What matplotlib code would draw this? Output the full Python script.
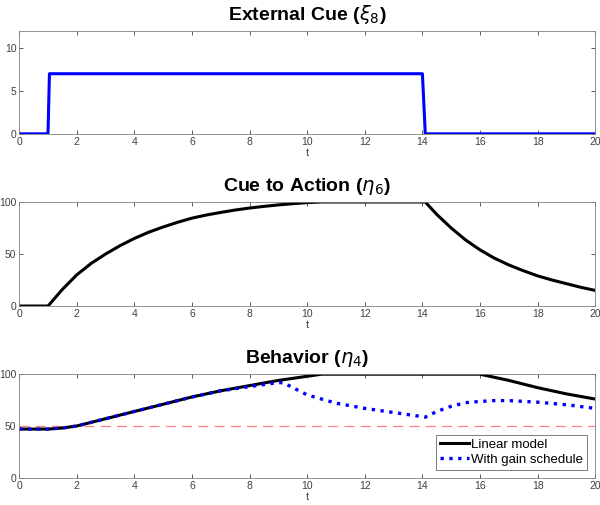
import matplotlib
matplotlib.use("Agg")
import matplotlib.pyplot as plt

plt.rcParams['font.family'] = ['Liberation Sans', 'DejaVu Sans']
plt.rcParams['mathtext.fontset'] = 'dejavusans'

# Panel 1: external cue
cue_t = [0, 1.0, 1.05, 14.0, 14.1, 20]
cue_y = [0, 0, 7, 7, 0, 0]

# Panel 2: cue to action
act_t = [0, 1, 1.5, 2, 2.5, 3, 3.5, 4, 4.5, 5, 5.5, 6, 6.5, 7, 7.5, 8, 8.5, 9, 9.5, 10, 10.5,
         14.1, 14.5, 15, 15.5, 16, 16.5, 17, 17.5, 18, 18.5, 19, 19.5, 20]
act_y = [0, 0, 16, 30, 41, 50, 58, 65, 71, 76, 80.5, 84.5, 87.5, 90, 92.3, 94.2, 95.8, 97.2,
         98.4, 99.4, 100,
         100, 88, 75, 63.5, 54, 46, 39.5, 34, 29, 25, 21.5, 18, 15]

# Panel 3: behavior
lin_t = [0, 1, 1.5, 2, 3, 4, 5, 6, 7, 8, 9, 10, 10.5, 16, 17, 18, 19, 20]
lin_y = [47, 47, 48, 50, 57, 64, 71, 78, 84, 89, 94, 98, 100, 100, 94, 87, 81, 76]

gain_t = [0, 1, 1.5, 2, 3, 4, 5, 6, 7, 8, 9, 9.2, 9.5, 10, 10.5, 11, 12, 13, 14, 14.1,
          14.5, 15, 15.5, 16, 16.5, 17, 18, 19, 20]
gain_y = [47, 47, 48, 50, 57, 64, 71, 78, 84, 88, 92, 91.5, 87, 80, 76, 72, 67, 63, 59, 58.5,
          64, 69, 72.5, 73.7, 74.5, 74.5, 73, 70.5, 67]

threshold = 50
xticks = [0, 2, 4, 6, 8, 10, 12, 14, 16, 18, 20]

fig = plt.figure(figsize=(6.0, 5.05), dpi=100)

def style(ax, ylim, yticks):
    ax.set_xlim(0, 20)
    ax.set_ylim(*ylim)
    ax.set_xticks(xticks)
    ax.set_yticks(yticks)
    ax.tick_params(direction='in', top=True, right=True, labelsize=7.5, colors='#404040',
                   length=3, width=0.6, pad=2)
    for s in ax.spines.values():
        s.set_color('#808080')
        s.set_linewidth(0.6)
    ax.set_xlabel('t', fontsize=8, color='#404040', labelpad=1)

ax1 = fig.add_axes([0.032, 0.735, 0.960, 0.204])
ax1.plot(cue_t, cue_y, color='#0000ff', lw=2.2)
style(ax1, (0, 12), [0, 5, 10])
ax1.set_title(r'External Cue ($\xi_8$)', fontsize=14, fontweight='bold', pad=8)

ax2 = fig.add_axes([0.032, 0.394, 0.960, 0.206])
ax2.plot(act_t, act_y, color='black', lw=2.2)
style(ax2, (0, 100), [0, 50, 100])
ax2.set_title(r'Cue to Action ($\eta_6$)', fontsize=14, fontweight='bold', pad=8)

ax3 = fig.add_axes([0.032, 0.054, 0.960, 0.205])
ax3.axhline(threshold, color='#ff8080', lw=0.9, ls=(0, (8, 5)))
ax3.plot(lin_t, lin_y, color='black', lw=2.2, label='Linear model')
ax3.plot(gain_t, gain_y, color='#0000ff', lw=2.4, ls=':', label='With gain schedule')
style(ax3, (0, 100), [0, 50, 100])
ax3.set_title(r'Behavior ($\eta_4$)', fontsize=14, fontweight='bold', pad=8)
leg = ax3.legend(loc='lower right', fontsize=9.5, frameon=True, fancybox=False,
                 borderpad=0.3, handlelength=2.2, handletextpad=0.2, labelspacing=0.2,
                 borderaxespad=0.6)
leg.get_frame().set_edgecolor('#404040')
leg.get_frame().set_linewidth(0.6)

fig.savefig('out.png', dpi=100)
